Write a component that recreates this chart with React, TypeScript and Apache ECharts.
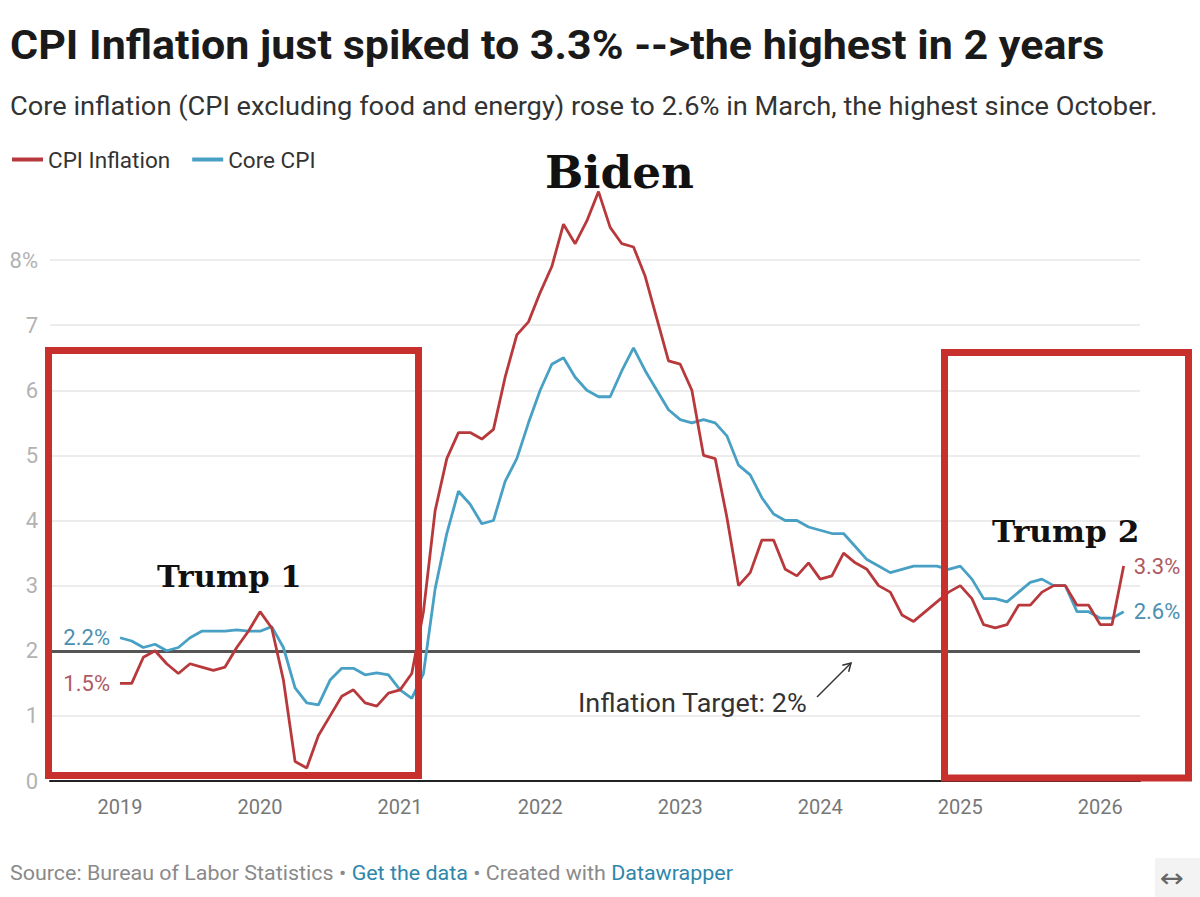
import React, { useEffect, useRef } from "react";
import * as echarts from "echarts";

// ---- Data (monthly, starting January 2019) ----
const cpiInflation: number[] = [
  // 2019
  1.5, 1.5, 1.9, 2.0, 1.8, 1.65, 1.8, 1.75, 1.7, 1.75, 2.05, 2.3,
  // 2020
  2.6, 2.35, 1.55, 0.3, 0.2, 0.7, 1.0, 1.3, 1.4, 1.2, 1.15, 1.35,
  // 2021
  1.4, 1.65, 2.6, 4.15, 4.95, 5.35, 5.35, 5.25, 5.4, 6.2, 6.85, 7.05,
  // 2022
  7.5, 7.9, 8.55, 8.25, 8.6, 9.05, 8.5, 8.25, 8.2, 7.75, 7.1, 6.45,
  // 2023
  6.4, 6.0, 5.0, 4.95, 4.05, 3.0, 3.2, 3.7, 3.7, 3.25, 3.15, 3.35,
  // 2024
  3.1, 3.15, 3.5, 3.35, 3.25, 3.0, 2.9, 2.55, 2.45, 2.6, 2.75, 2.9,
  // 2025
  3.0, 2.8, 2.4, 2.35, 2.4, 2.7, 2.7, 2.9, 3.0, 3.0, 2.7, 2.7,
  // 2026
  2.4, 2.4, 3.3,
];
const coreCpi: number[] = [
  // 2019
  2.2, 2.15, 2.05, 2.1, 2.0, 2.05, 2.2, 2.3, 2.3, 2.3, 2.32, 2.3,
  // 2020
  2.3, 2.37, 2.05, 1.43, 1.2, 1.17, 1.55, 1.73, 1.73, 1.63, 1.66, 1.63,
  // 2021
  1.4, 1.27, 1.65, 2.95, 3.8, 4.45, 4.25, 3.95, 4.0, 4.6, 4.95, 5.5,
  // 2022
  6.0, 6.4, 6.5, 6.2, 6.0, 5.9, 5.9, 6.3, 6.65, 6.3, 6.0, 5.7,
  // 2023
  5.55, 5.5, 5.55, 5.5, 5.3, 4.85, 4.7, 4.35, 4.1, 4.0, 4.0, 3.9,
  // 2024
  3.85, 3.8, 3.8, 3.6, 3.4, 3.3, 3.2, 3.25, 3.3, 3.3, 3.3, 3.25,
  // 2025
  3.3, 3.1, 2.8, 2.8, 2.75, 2.9, 3.05, 3.1, 3.0, 3.0, 2.6, 2.6,
  // 2026
  2.5, 2.5, 2.6,
];
const yearTickMonths: number[] = [0, 12, 24, 36, 48, 60, 72, 84];
const yearTickLabels: string[] = ["2019", "2020", "2021", "2022", "2023", "2024", "2025", "2026"];
const inflationTarget = 2;
const seriesNames = ["CPI Inflation", "Core CPI"];

const RED = "#b8393c";
const BLUE = "#48a0c4";
const RED_LABEL = "#ad5a62";
const BLUE_LABEL = "#4a90b2";
const BOX_RED = "#c8302e";

function toPairs(values: number[], labelColor: string) {
  return values.map((v, i) => {
    if (i === 0) {
      return {
        value: [i, v],
        label: {
          show: true,
          position: "left",
          distance: 10,
          formatter: `${v}%`,
          color: labelColor,
          fontSize: 22,
          fontFamily: "Roboto",
        },
      };
    }
    return { value: [i, v] };
  });
}

function txt(x: number, y: number, text: string, font: string, fill: string, sx = 1, extra: any = {}) {
  return {
    type: "text",
    x,
    y,
    scaleX: sx,
    z: 100,
    style: { text, font, fill, verticalAlign: "middle", align: "left", ...extra },
  };
}

export default function App() {
  const ref = useRef<HTMLDivElement>(null);
  useEffect(() => {
    if (!ref.current) return;
    const chart = echarts.init(ref.current, undefined, { renderer: "svg" });
    const lastCpi = cpiInflation[cpiInflation.length - 1];
    const lastCore = coreCpi[coreCpi.length - 1];
    const option: any = {
      animation: false,
      backgroundColor: "#ffffff",
      textStyle: { fontFamily: "Roboto" },
      grid: { left: 50, right: 60, top: 260, bottom: 116 },
      legend: {
        left: 7,
        top: 143,
        icon: "rect",
        itemWidth: 31,
        itemHeight: 4,
        itemGap: 22,
        data: seriesNames,
        textStyle: { fontSize: 22.5, color: "#333", fontFamily: "Roboto" },
      },
      xAxis: {
        type: "value",
        min: -6,
        max: 87.4,
        splitLine: { show: false },
        axisTick: { show: false },
        axisLine: { show: true, lineStyle: { color: "#222", width: 2 } },
        axisLabel: {
          customValues: yearTickMonths,
          formatter: (v: number) => yearTickLabels[yearTickMonths.indexOf(Math.round(v))] ?? "",
          color: "#777",
          fontSize: 20,
          margin: 16,
          fontFamily: "Roboto",
        },
      },
      yAxis: {
        type: "value",
        min: 0,
        max: 8,
        interval: 1,
        axisLine: { show: false },
        axisTick: { show: false },
        splitLine: { show: true, lineStyle: { color: "#e6e6e6", width: 1.5 } },
        axisLabel: {
          formatter: (v: number) => (v === 8 ? "8%" : String(v)),
          color: "#b2b2b2",
          fontSize: 22,
          margin: 12,
          fontFamily: "Roboto",
        },
      },
      series: [
        {
          name: seriesNames[0],
          type: "line",
          data: toPairs(cpiInflation, RED_LABEL),
          clip: false,
          showSymbol: true,
          symbol: "circle",
          symbolSize: 0,
          z: 4,
          itemStyle: { color: RED },
          lineStyle: { color: RED, width: 2.8 },
          endLabel: {
            show: true,
            formatter: `${lastCpi}%`,
            distance: 10,
            color: RED_LABEL,
            fontSize: 22,
            fontFamily: "Roboto",
          },
          markLine: {
            silent: true,
            symbol: "none",
            label: { show: false },
            lineStyle: { color: "#555", width: 3, type: "solid" },
            data: [{ yAxis: inflationTarget }],
            z: 2,
          },
        },
        {
          name: seriesNames[1],
          type: "line",
          data: toPairs(coreCpi, BLUE_LABEL),
          clip: false,
          showSymbol: true,
          symbol: "circle",
          symbolSize: 0,
          z: 3,
          itemStyle: { color: BLUE },
          lineStyle: { color: BLUE, width: 2.8 },
          endLabel: {
            show: true,
            formatter: `${lastCore}%`,
            distance: 10,
            color: BLUE_LABEL,
            fontSize: 22,
            fontFamily: "Roboto",
          },
        },
      ],
      graphic: [
        txt(10, 45, "CPI Inflation just spiked to 3.3% -->the highest in 2 years", "bold 40px Roboto", "#1a1a1a", 1.075),
        txt(
          10,
          106,
          "Core inflation (CPI excluding food and energy) rose to 2.6% in March, the highest since October.",
          "25px Roboto",
          "#333",
          1.09
        ),
        txt(545, 173, "Biden", "bold 44px 'DejaVu Serif'", "#111", 1.03),
        txt(157, 577, "Trump 1", "bold 30px 'DejaVu Serif'", "#111", 1.02),
        txt(992, 531, "Trump 2", "bold 30px 'DejaVu Serif'", "#111", 1.04),
        {
          type: "rect",
          z: 90,
          shape: { x: 48.5, y: 350.5, width: 370, height: 425 },
          style: { fill: "none", stroke: BOX_RED, lineWidth: 7 },
        },
        {
          type: "rect",
          z: 90,
          shape: { x: 944.5, y: 352.5, width: 244, height: 425.5 },
          style: { fill: "none", stroke: BOX_RED, lineWidth: 7 },
        },
        txt(578, 703, "Inflation Target: 2%", "25px Roboto", "#333", 1.08),
        {
          type: "line",
          shape: { x1: 817, y1: 697, x2: 851, y2: 663 },
          style: { stroke: "#333", lineWidth: 1.5 },
        },
        {
          type: "polyline",
          shape: { points: [[848.7, 671.7], [851, 663], [842.3, 665.3]] },
          style: { stroke: "#333", lineWidth: 1.5, fill: "none" },
        },
        txt(
          10,
          873,
          "{g|Source: Bureau of Labor Statistics • }{b|Get the data}{g| • Created with }{b|Datawrapper}",
          "19.5px Roboto",
          "#8a8a8a",
          1.1,
          {
            rich: {
              g: { fill: "#8a8a8a", font: "19.5px Roboto" },
              b: { fill: "#2e86ab", font: "19.5px Roboto" },
            },
          }
        ),
        {
          type: "rect",
          z: 1,
          shape: { x: 1155, y: 858, width: 45, height: 39 },
          style: { fill: "#f3f3f3" },
        },
        txt(1160, 878, "↔", "26px 'DejaVu Sans'", "#666", 1.1),
      ],
    };
    chart.setOption(option);
    return () => chart.dispose();
  }, []);
  return (
    <div
      ref={ref}
      style={{ position: "fixed", left: 0, top: 0, width: 1200, height: 897, background: "#fff" }}
    />
  );
}
